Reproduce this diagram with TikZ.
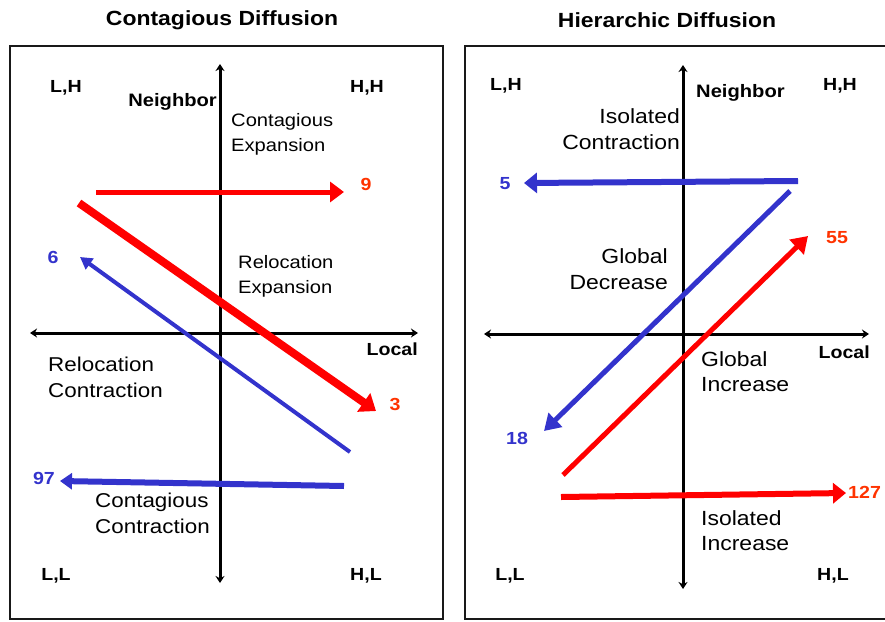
\documentclass[tikz,border=0pt]{standalone}
\usepackage{fontspec}
\setmainfont[FakeStretch=1.12]{Liberation Sans}
\usetikzlibrary{arrows.meta}
\definecolor{myred}{RGB}{255,0,0}
\definecolor{numred}{RGB}{255,51,0}
\definecolor{myblue}{RGB}{51,51,204}
\tikzset{
  panel/.style={draw=black!90, line width=2pt},
  axisline/.style={line width=3pt, {Stealth[length=7pt,width=9pt]}-{Stealth[length=7pt,width=9pt]}},
  axisup/.style={line width=3pt, -{Stealth[length=7pt,width=9pt]}},
  title/.style={font=\fontsize{20.5}{24}\selectfont\bfseries, inner sep=0pt},
  corner/.style={font=\fontsize{17.5}{21}\selectfont\bfseries, inner sep=0pt},
  lab/.style={font=\fontsize{18}{25}\selectfont, inner sep=0pt, align=left},
  labbig/.style={font=\fontsize{20}{26}\selectfont, inner sep=0pt, align=left},
  labbigr/.style={font=\fontsize{20.5}{26}\selectfont, inner sep=0pt, align=right},
  labbigl/.style={font=\fontsize{20.5}{25}\selectfont, inner sep=0pt, align=left},
  num/.style={font=\fontsize{17.5}{21}\selectfont\bfseries, inner sep=0pt},
}
\begin{document}
\begin{tikzpicture}[x=1pt,y=-1pt]
\useasboundingbox (0,0) rectangle (885,621);
% panels
\draw[panel] (10,46) rectangle (443,619);
\draw[panel] (465,46) rectangle (895,619);
% titles
\node[title] (t1) at (222,20) {Contagious Diffusion};
\node[title] (t2) at (667,20) {Hierarchic Diffusion};

% ===== Left panel =====
\coordinate (lvt) at (220,64);
\coordinate (lvb) at (220,583);
\coordinate (lc) at (220,333);
\coordinate (lhl) at (30,333);
\coordinate (lhr) at (418,333);
\draw[axisup] (lc) -- (lvt);
\draw[axisup] (lc) -- (lvb);
\draw[axisline] (lhl) -- (lhr);

\node[corner] (lLH) at (66,88) {L,H};
\node[corner] (lHH) at (367,88) {H,H};
\node[corner] (lLL) at (56,576) {L,L};
\node[corner] (lHL) at (366,576) {H,L};
\node[corner, font=\fontsize{18}{21}\selectfont\bfseries, anchor=east] (lnb) at (217,102) {Neighbor};
\node[corner, anchor=east] (llo) at (418,349) {Local};

\node[lab, anchor=west] (ce) at (231,134) {Contagious\\Expansion};
\node[lab, anchor=west] (re) at (238,276.5) {Relocation\\Expansion};
\node[labbig, anchor=west] (rc) at (48,377) {Relocation\\Contraction};
\node[labbig, anchor=west] (cc) at (95,513) {Contagious\\Contraction};

% arrows
\coordinate (a9s) at (96,192);
\coordinate (a9e) at (344,192);
\draw[myred, line width=5pt, -{Triangle[length=14pt,width=20pt]}] (a9s) -- (a9e);
\node[num, text=numred] (n9) at (366,184) {9};

\coordinate (a3s) at (79,203);
\coordinate (a3e) at (376,411);
\draw[myred, line width=8pt, -{Triangle[length=15pt,width=22pt]}] (a3s) -- (a3e);
\node[num, text=numred] (n3) at (395,404) {3};

\coordinate (a6s) at (350,452);
\coordinate (a6e) at (80,257);
\draw[myblue, line width=4pt, -{Triangle[length=12pt,width=13pt]}] (a6s) -- (a6e);
\node[num, text=myblue] (n6) at (53,257) {6};

\coordinate (a97s) at (344,486);
\coordinate (a97e) at (60,481);
\draw[myblue, line width=6pt, -{Triangle[length=12pt,width=16pt]}] (a97s) -- (a97e);
\node[num, text=myblue] (n97) at (44,478) {97};

% ===== Right panel =====
\coordinate (rvt) at (683,65);
\coordinate (rvb) at (683,589);
\coordinate (rc0) at (683,334);
\coordinate (rhl) at (484,334);
\coordinate (rhr) at (869,334);
\draw[axisup] (rc0) -- (rvt);
\draw[axisup] (rc0) -- (rvb);
\draw[axisline] (rhl) -- (rhr);

\node[corner] (rLH) at (506,86) {L,H};
\node[corner] (rHH) at (840,86) {H,H};
\node[corner] (rLL) at (510,576) {L,L};
\node[corner] (rHL) at (833,576) {H,L};
\node[corner, font=\fontsize{18}{21}\selectfont\bfseries, anchor=west] (rnb) at (696,93) {Neighbor};
\node[corner, anchor=east] (rlo) at (870,352) {Local};

\node[labbigr, anchor=east] (ic) at (680,129.5) {Isolated\\Contraction};
\node[labbigr, anchor=east] (gd) at (668,269) {Global\\Decrease};
\node[labbigl, anchor=west] (gi) at (701,372) {Global\\Increase};
\node[labbigl, anchor=west] (ii) at (701,531) {Isolated\\Increase};

\coordinate (a5s) at (798,181);
\coordinate (a5e) at (524,183);
\draw[myblue, line width=6pt, -{Triangle[length=13pt,width=20pt]}] (a5s) -- (a5e);
\node[num, text=myblue] (n5) at (505,184) {5};

\coordinate (a18s) at (790,191);
\coordinate (a18e) at (544,431);
\draw[myblue, line width=5pt, -{Triangle[length=16pt,width=19pt]}] (a18s) -- (a18e);
\node[num, text=myblue] (n18) at (517,438) {18};

\coordinate (a55s) at (563,475);
\coordinate (a55e) at (808,236);
\draw[myred, line width=5pt, -{Triangle[length=16pt,width=20pt]}] (a55s) -- (a55e);
\node[num, text=numred] (n55) at (837,238) {55};

\coordinate (a127s) at (561,497);
\coordinate (a127e) at (846,493);
\draw[myred, line width=6pt, -{Triangle[length=13pt,width=20pt]}] (a127s) -- (a127e);
\node[num, text=numred, anchor=west] (n127) at (848,492) {127};
\end{tikzpicture}
\end{document}
